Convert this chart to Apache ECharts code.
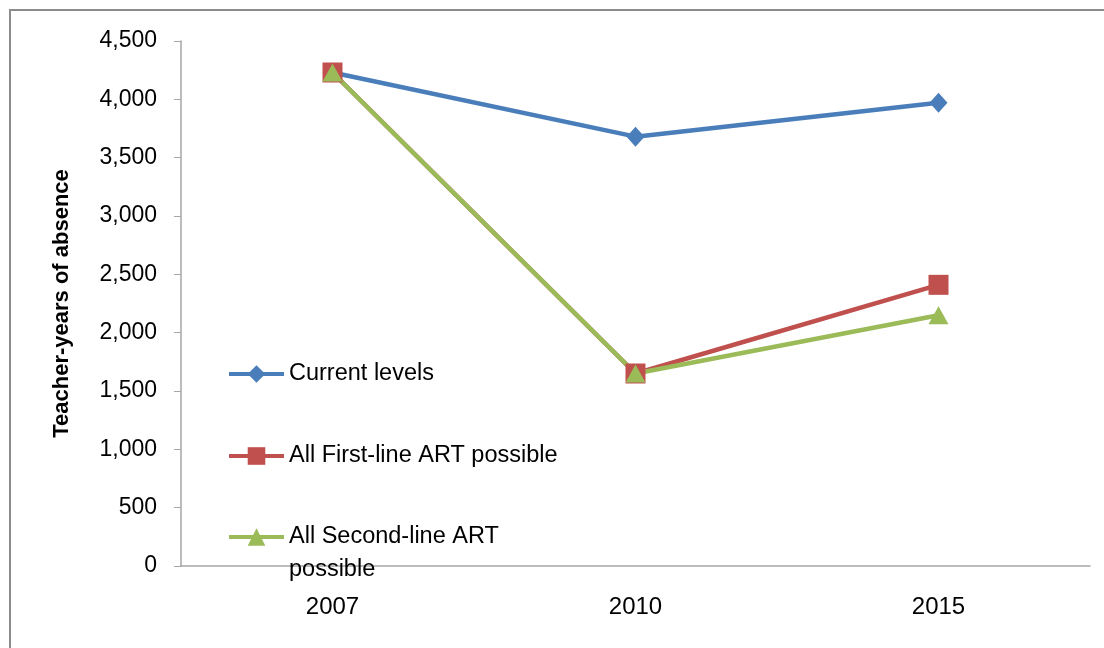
<!DOCTYPE html>
<html>
<head>
<meta charset="utf-8">
<script src="https://cdn.jsdelivr.net/npm/echarts@6/dist/echarts.min.js"></script>
<style>
  html, body { margin: 0; padding: 0; background: #fff; }
  #chart { width: 1104px; height: 648px; }
</style>
</head>
<body>
<div id="chart"></div>
<script>
const years = ["2007", "2010", "2015"];
const currentLevels = [4230, 3680, 3970];
const firstLineArt = [4230, 1650, 2410];
const secondLineArt = [4230, 1650, 2150];
const yTicks = { min: 0, max: 4500, step: 500 };

const font = "Liberation Sans";
const chart = echarts.init(document.getElementById("chart"), null, { renderer: "canvas" });

function legendAt(name, top, label) {
  return {
    data: [name],
    left: 222,
    top: top,
    itemWidth: 55,
    itemHeight: 22,
    selectedMode: false,
    lineStyle: { width: 4 },
    formatter: label ? () => label : undefined,
    textStyle: { fontFamily: font, fontSize: 23.5, color: "#000", lineHeight: 33 }
  };
}

chart.setOption({
  animation: false,
  backgroundColor: "#fff",
  graphic: [{
    type: "rect",
    shape: { x: 10, y: 10, width: 1200, height: 700 },
    style: { fill: "none", stroke: "#8c8c8c", lineWidth: 2 },
    silent: true
  }],
  grid: { left: 181, right: 14, top: 41, bottom: 82 },
  legend: [
    legendAt("Current levels", 352.5),
    legendAt("All First-line ART possible", 434.5),
    legendAt("All Second-line ART possible", 482.5, " \nAll Second-line ART\npossible")
  ],
  xAxis: {
    type: "category",
    data: years,
    axisLine: { lineStyle: { color: "#a6a6a6", width: 1.5 } },
    axisTick: { show: false },
    axisLabel: { margin: 29, fontFamily: font, fontSize: 24, color: "#000" }
  },
  yAxis: {
    type: "value",
    min: yTicks.min,
    max: yTicks.max,
    interval: yTicks.step,
    name: "Teacher-years of absence",
    nameLocation: "middle",
    nameGap: 108,
    nameTextStyle: { fontFamily: font, fontSize: 22, fontWeight: "bold", color: "#000" },
    splitLine: { show: false },
    axisLine: { show: true, lineStyle: { color: "#a6a6a6", width: 1.5 } },
    axisTick: { show: true, length: 7, lineStyle: { color: "#a6a6a6" } },
    axisLabel: {
      margin: 24,
      fontFamily: font,
      fontSize: 23,
      color: "#000",
      formatter: v => v.toLocaleString("en-US")
    }
  },
  series: [
    {
      name: "Current levels",
      type: "line",
      data: currentLevels,
      symbol: "diamond",
      symbolSize: [18, 20],
      itemStyle: { color: "#4a7ebb" },
      lineStyle: { color: "#4a7ebb", width: 4.5 }
    },
    {
      name: "All First-line ART possible",
      type: "line",
      data: firstLineArt,
      symbol: "rect",
      symbolSize: 20,
      itemStyle: { color: "#c0504d" },
      lineStyle: { color: "#c0504d", width: 4.5 }
    },
    {
      name: "All Second-line ART possible",
      type: "line",
      data: secondLineArt,
      symbol: "triangle",
      symbolSize: [20, 18],
      itemStyle: { color: "#9bbb59" },
      lineStyle: { color: "#9bbb59", width: 4.5 }
    }
  ]
});
</script>
</body>
</html>
